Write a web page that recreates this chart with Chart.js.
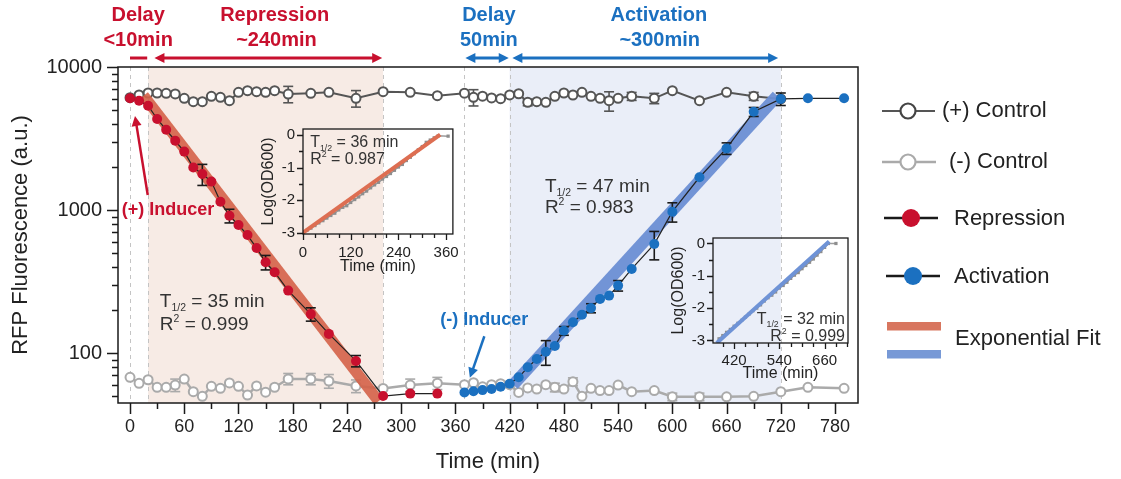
<!DOCTYPE html>
<html>
<head>
<meta charset="utf-8">
<script src="https://cdn.jsdelivr.net/npm/chart.js@4.4.1/dist/chart.umd.min.js"></script>
<style>
  html, body { margin: 0; padding: 0; background: #fff; }
  #wrap { position: relative; width: 1121px; height: 479px; overflow: hidden; }
  canvas { position: absolute; }
  #main { left: 0; top: 0; }
  #inset1 { left: 255px; top: 112px; }
  #inset2 { left: 665px; top: 221px; }
</style>
</head>
<body>
<div id="wrap">
  <canvas id="main" width="1121" height="479"></canvas>
  <canvas id="inset1" width="214" height="168"></canvas>
  <canvas id="inset2" width="191" height="168"></canvas>
</div>
<script>
const FONT = '"Liberation Sans", Arial, Helvetica, sans-serif';
const RED = '#c8102e';
const BLUE = '#1b70c0';
const TXT = '#333';

// axes
const X_MIN = -13.3, X_MAX = 805.4;
const Y_MIN = 44.7, Y_MAX = 10000;
const X_MAJOR = [0, 60, 120, 180, 240, 300, 360, 420, 480, 540, 600, 660, 720, 780];
const X_MINOR = [30, 90, 150, 210, 270, 330, 390, 450, 510, 570, 630, 690, 750];
const Y_MAJOR = [100, 1000, 10000];
const Y_MINOR = [50, 60, 70, 80, 90, 200, 300, 400, 500, 600, 700, 800, 900,
                 2000, 3000, 4000, 5000, 6000, 7000, 8000, 9000];
const SHADE_REP = [20, 280];
const SHADE_ACT = [420, 720];
const DASH_T = [0, 20, 280, 370, 420, 720];

// (+) control
const POS_T = [0, 10, 20, 30, 40, 50, 60, 70, 80, 90, 100, 110, 120, 130, 140, 150, 160, 175, 200, 220, 250, 280,
               310, 340, 370, 380, 390, 400, 410, 420, 430, 440, 450, 460, 470, 480, 490, 500, 510, 520, 530, 540,
               555, 580, 600, 630, 660, 690, 720];
const POS_V = [6100, 6370, 6580, 6580, 6550, 6480, 6040, 5720, 5720, 6240, 6140, 5810, 6650, 6830, 6720, 6650, 6830, 6470, 6550, 6650, 6040, 6720,
               6650, 6300, 6560, 6140, 6250, 6080, 6000, 6380, 6500, 5660, 5720, 5660, 6240, 6580, 6370, 6650, 6240, 6040, 5810, 6040,
               6240, 6040, 6830, 5810, 6650, 6240, 5980];
const POS_ERR = [0, 0, 0, 0, 0, 0, 0, 0, 0, 0, 0, 0, 0, 0, 0, 0, 0, 850, 0, 0, 800, 0,
                 0, 0, 0, 800, 0, 0, 0, 0, 0, 300, 0, 0, 0, 0, 0, 0, 0, 0, 900, 0,
                 400, 500, 0, 0, 0, 400, 0];

// (-) control
const NEG_T = [0, 10, 20, 30, 40, 50, 60, 70, 80, 90, 100, 110, 120, 130, 140, 150, 160, 175, 200, 220, 250, 280,
               310, 340, 370, 380, 390, 400, 410, 420, 430, 440, 450, 460, 470, 480, 490, 500, 510, 520, 530, 540,
               555, 580, 600, 630, 660, 690, 720, 750, 790];
const NEG_V = [67.6, 61.4, 65, 57.5, 57.5, 59.7, 65.7, 53.6, 49.8, 58.5, 56.6, 61.7, 58.5, 50.8, 58.8, 53.2, 57.6, 65.9, 65.9, 63.7, 58.8, 56.5,
               59.7, 61.5, 60, 62, 58, 60, 61, 60, 53, 57, 56, 60, 57.5, 55.9, 63, 49.8, 56.6, 54.6, 54.6, 59.7,
               53.6, 54.6, 49.4, 49.4, 49.4, 49.8, 53.6, 57.5, 56.6];
const NEG_ERR = [0, 0, 0, 0, 0, 6, 0, 0, 0, 0, 0, 0, 0, 0, 0, 0, 0, 6, 6, 7, 6, 0,
                 6, 6, 0, 0, 0, 0, 0, 0, 0, 0, 0, 0, 4, 0, 4, 0, 0, 0, 0, 0,
                 0, 0, 3, 3, 0, 0, 0, 0, 0];

// repression
const REP_T = [0, 10, 20, 30, 40, 50, 60, 70, 80, 90, 100, 110, 120, 130, 140, 150, 160, 175, 200, 220, 250, 280, 310, 340];
const REP_V = [6040, 5810, 5360, 4330, 3640, 3050, 2560, 1980, 1785, 1580, 1143, 912, 785, 668, 542, 431, 367, 273, 187, 136, 88, 50, 52, 52];
const REP_ERR = [0, 0, 0, 0, 0, 0, 0, 0, 300, 0, 0, 100, 0, 0, 0, 50, 0, 0, 20, 0, 8, 0, 0, 0];

// activation
const ACT_T = [370, 380, 390, 400, 410, 420, 430, 440, 450, 460, 470, 480, 490, 500, 510, 520, 530, 540, 555, 580, 600, 630, 660, 690, 720, 750, 790];
const ACT_V = [53, 54, 55, 56, 58, 61, 67.6, 79.4, 90.8, 102, 112, 143, 164, 185, 206, 239, 252, 296, 387, 578, 973, 1694, 2697, 4860, 5980, 6040, 6040];
const ACT_ERR = [0, 0, 0, 0, 0, 0, 0, 0, 0, 20, 0, 10, 0, 0, 15, 0, 0, 25, 0, 130, 150, 0, 250, 350, 600, 0, 0];

// exponential fits (main panel)
const FIT_REP_T = [15, 275];
const FIT_REP_V = [6300, 46];
const FIT_ACT_T = [424, 716];
const FIT_ACT_V = [60, 6300];

// inset 1 (growth during repression)
const IN1_T = [0, 10, 20, 30, 40, 50, 60, 70, 80, 90, 100, 110, 120, 130, 140, 150, 160, 170, 180, 190, 200,
               210, 220, 230, 240, 250, 260, 270, 280, 290, 300, 310, 320, 330, 340, 365];
const IN1_V = [-3.0, -2.93, -2.86, -2.78, -2.70, -2.63, -2.55, -2.47, -2.40, -2.30, -2.22, -2.17, -2.07, -1.98, -1.90, -1.80, -1.72, -1.62, -1.53, -1.45, -1.35,
               -1.27, -1.18, -1.08, -0.98, -0.90, -0.78, -0.68, -0.57, -0.45, -0.35, -0.22, -0.15, -0.08, -0.02, -0.03];
const IN1_FIT_T = [0, 345];
const IN1_FIT_V = [-3.0, 0.02];
const IN1_X_MAJOR = [0, 120, 240, 360];
const IN1_X_MINOR = [30, 60, 90, 150, 180, 210, 270, 300, 330];

// inset 2 (growth during activation)
const IN2_T = [380, 390, 400, 410, 420, 430, 440, 450, 460, 470, 480, 490, 500, 510, 520, 530, 540, 550, 560, 570,
               580, 590, 600, 610, 620, 630, 640, 650, 660, 670, 690];
const IN2_V = [-2.95, -2.85, -2.75, -2.66, -2.56, -2.47, -2.38, -2.28, -2.18, -2.08, -2.0, -1.9, -1.78, -1.68, -1.6, -1.5, -1.38, -1.3, -1.2, -1.08,
               -0.98, -0.9, -0.78, -0.68, -0.58, -0.48, -0.36, -0.25, -0.12, 0.0, 0.0];
const IN2_FIT_T = [374, 672];
const IN2_FIT_V = [-3.08, 0.06];
const IN2_X_MAJOR = [420, 540, 660];
const IN2_X_MINOR = [390, 450, 480, 510, 570, 600, 630, 690, 720];

const IN_Y_MAJOR = [0, -1, -2, -3];
const IN_Y_MINOR = [-0.5, -1.5, -2.5];

const pts = (T, V) => T.map((t, i) => ({x: t, y: V[i]}));

// ---------- drawing helpers ----------
function seg(ctx, x1, y1, x2, y2, color, w) {
    ctx.beginPath();
    ctx.strokeStyle = color;
    ctx.lineWidth = w;
    ctx.moveTo(x1, y1);
    ctx.lineTo(x2, y2);
    ctx.stroke();
}

function head(ctx, fx, fy, tx, ty, color, len, half) {
    const ang = Math.atan2(ty - fy, tx - fx);
    ctx.beginPath();
    ctx.fillStyle = color;
    ctx.moveTo(tx, ty);
    ctx.lineTo(tx - len * Math.cos(ang) + half * Math.sin(ang), ty - len * Math.sin(ang) - half * Math.cos(ang));
    ctx.lineTo(tx - len * Math.cos(ang) - half * Math.sin(ang), ty - len * Math.sin(ang) + half * Math.cos(ang));
    ctx.closePath();
    ctx.fill();
}

function arrow(ctx, x1, y1, x2, y2, color, w, both) {
    const ang = Math.atan2(y2 - y1, x2 - x1);
    const len = 10;
    const sx = both ? x1 + (len - 2) * Math.cos(ang) : x1;
    const sy = both ? y1 + (len - 2) * Math.sin(ang) : y1;
    seg(ctx, sx, sy, x2 - (len - 2) * Math.cos(ang), y2 - (len - 2) * Math.sin(ang), color, w);
    head(ctx, x1, y1, x2, y2, color, len, 5);
    if (both) head(ctx, x2, y2, x1, y1, color, len, 5);
}

function circ(ctx, x, y, r, fill, stroke, w) {
    ctx.beginPath();
    ctx.arc(x, y, r, 0, Math.PI * 2);
    ctx.fillStyle = fill;
    ctx.fill();
    if (stroke) {
        ctx.strokeStyle = stroke;
        ctx.lineWidth = w;
        ctx.stroke();
    }
}

// text with a small subscript / superscript part: base + small + rest
function subText(ctx, x, cy, size, base, small, rest, sup, align) {
    const y = cy + size * 0.36;
    ctx.font = `${size}px ${FONT}`;
    const w1 = ctx.measureText(base).width;
    const w3 = ctx.measureText(rest).width;
    ctx.font = `${size * 0.55}px ${FONT}`;
    const w2 = ctx.measureText(small).width;
    const x0 = align === 'right' ? x - w1 - w2 - w3 : x;
    ctx.textAlign = 'left';
    ctx.textBaseline = 'alphabetic';
    ctx.fillStyle = TXT;
    ctx.font = `${size}px ${FONT}`;
    ctx.fillText(base, x0, y);
    ctx.font = `${size * 0.55}px ${FONT}`;
    ctx.fillText(small, x0 + w1, sup ? y - size * 0.42 : y + size * 0.22);
    ctx.font = `${size}px ${FONT}`;
    ctx.fillText(rest, x0 + w1 + w2, y);
}

// ---------- plugins ----------
const shading = {
    id: 'shading',
    beforeDatasetsDraw(chart) {
        const {ctx, chartArea: a, scales: {x}} = chart;
        ctx.save();
        ctx.fillStyle = '#f7ebe5';
        ctx.fillRect(x.getPixelForValue(SHADE_REP[0]), a.top, x.getPixelForValue(SHADE_REP[1]) - x.getPixelForValue(SHADE_REP[0]), a.bottom - a.top);
        ctx.fillStyle = '#eaeef8';
        ctx.fillRect(x.getPixelForValue(SHADE_ACT[0]), a.top, x.getPixelForValue(SHADE_ACT[1]) - x.getPixelForValue(SHADE_ACT[0]), a.bottom - a.top);
        ctx.setLineDash([4, 4]);
        DASH_T.forEach(t => {
            const p = Math.round(x.getPixelForValue(t)) + 0.5;
            seg(ctx, p, a.top, p, a.bottom, '#c4c4c4', 1);
        });
        ctx.restore();
    }
};

const errorBars = {
    id: 'errorBars',
    beforeDatasetDraw(chart, args) {
        const ds = chart.data.datasets[args.index];
        if (!ds.errors) return;
        const {ctx, scales: {x, y}} = chart;
        ctx.save();
        ds.data.forEach((p, i) => {
            const e = ds.errors[i];
            if (!e) return;
            const px = x.getPixelForValue(p.x);
            const y1 = y.getPixelForValue(p.y + e);
            const y2 = y.getPixelForValue(Math.max(p.y - e, 1));
            seg(ctx, px, y1, px, y2, ds.errColor, 1.6);
            seg(ctx, px - 5, y1, px + 5, y1, ds.errColor, 1.6);
            seg(ctx, px - 5, y2, px + 5, y2, ds.errColor, 1.6);
        });
        ctx.restore();
    }
};

const frame = {
    id: 'frame',
    afterDatasetsDraw(chart, args, o) {
        const {ctx, chartArea: a, scales: {x, y}} = chart;
        ctx.save();
        ctx.strokeStyle = '#1a1a1a';
        ctx.lineWidth = o.width;
        ctx.strokeRect(a.left, a.top, a.right - a.left, a.bottom - a.top);
        ctx.beginPath();
        o.xMajor.concat(o.xMinor).forEach((v, i) => {
            const p = Math.round(x.getPixelForValue(v)) + 0.5;
            const len = i < o.xMajor.length ? o.major : o.minor;
            ctx.moveTo(p, a.bottom);
            ctx.lineTo(p, a.bottom + len);
        });
        o.yMajor.concat(o.yMinor).forEach((v, i) => {
            const p = Math.round(y.getPixelForValue(v)) + 0.5;
            const len = i < o.yMajor.length ? o.major : o.minor;
            ctx.moveTo(a.left, p);
            ctx.lineTo(a.left - len, p);
        });
        ctx.stroke();
        ctx.restore();
    }
};

const mainNotes = {
    id: 'mainNotes',
    afterDraw(chart) {
        const {ctx, chartArea: a, scales: {x, y}} = chart;
        ctx.save();

        // phase headers
        const hdr = (s, t, py, color) => {
            ctx.font = `bold 20px ${FONT}`;
            ctx.fillStyle = color;
            ctx.textAlign = 'center';
            ctx.textBaseline = 'middle';
            ctx.fillText(s, x.getPixelForValue(t), py);
        };
        hdr('Delay', 9, a.top - 52, RED);
        hdr('<10min', 9, a.top - 27, RED);
        hdr('Repression', 160, a.top - 52, RED);
        hdr('~240min', 162, a.top - 27, RED);
        hdr('Delay', 397, a.top - 52, BLUE);
        hdr('50min', 397, a.top - 27, BLUE);
        hdr('Activation', 585, a.top - 52, BLUE);
        hdr('~300min', 586, a.top - 27, BLUE);

        const ay = a.top - 9;
        seg(ctx, x.getPixelForValue(0), ay, x.getPixelForValue(19), ay, RED, 3);
        arrow(ctx, x.getPixelForValue(27), ay, x.getPixelForValue(279), ay, RED, 3, true);
        arrow(ctx, x.getPixelForValue(371), ay, x.getPixelForValue(419), ay, BLUE, 3, true);
        arrow(ctx, x.getPixelForValue(423), ay, x.getPixelForValue(717), ay, BLUE, 3, true);

        // inducers
        ctx.font = `bold 18px ${FONT}`;
        ctx.textAlign = 'center';
        ctx.textBaseline = 'middle';
        ctx.fillStyle = RED;
        ctx.fillText('(+) Inducer', x.getPixelForValue(42), y.getPixelForValue(1000));
        arrow(ctx, x.getPixelForValue(19.6), y.getPixelForValue(1274), x.getPixelForValue(5.5), y.getPixelForValue(4545), RED, 2.5, false);
        ctx.font = `bold 18px ${FONT}`;
        ctx.fillStyle = BLUE;
        ctx.fillText('(-) Inducer', x.getPixelForValue(392), y.getPixelForValue(170));
        arrow(ctx, x.getPixelForValue(392), y.getPixelForValue(131), x.getPixelForValue(376), y.getPixelForValue(67), BLUE, 2.5, false);

        // fit statistics
        subText(ctx, x.getPixelForValue(33), y.getPixelForValue(235), 19, 'T', '1/2', ' = 35 min', false);
        subText(ctx, x.getPixelForValue(33), y.getPixelForValue(162), 19, 'R', '2', ' = 0.999', true);
        subText(ctx, x.getPixelForValue(459), y.getPixelForValue(1496), 19, 'T', '1/2', ' = 47 min', false);
        subText(ctx, x.getPixelForValue(459), y.getPixelForValue(1066), 19, 'R', '2', ' = 0.983', true);

        // legend
        ctx.font = `22px ${FONT}`;
        ctx.textAlign = 'left';
        ctx.textBaseline = 'middle';
        seg(ctx, 882, 111, 935, 111, '#555', 2);
        circ(ctx, 908, 111, 7.5, '#fff', '#444', 2.2);
        seg(ctx, 882, 162, 936, 162, '#aaa', 2.5);
        circ(ctx, 908, 162, 7.5, '#fff', '#aaa', 2.2);
        seg(ctx, 884, 218, 938, 218, '#1a1a1a', 2.5);
        circ(ctx, 911, 218, 9, RED);
        seg(ctx, 886, 276, 940, 276, '#1a1a1a', 2.5);
        circ(ctx, 913, 276, 9, BLUE);
        ctx.fillStyle = '#d8765f';
        ctx.fillRect(887, 322, 54, 8.5);
        ctx.fillStyle = '#7799d6';
        ctx.fillRect(887, 350, 54, 8.5);
        ctx.fillStyle = '#222';
        ctx.font = `22px ${FONT}`;
        ctx.fillText('(+) Control', 942, 111);
        ctx.fillText('(-) Control', 949, 162);
        ctx.fillText('Repression', 954, 219);
        ctx.fillText('Activation', 954, 277);
        ctx.fillText('Exponential Fit', 955, 339);
        ctx.restore();
    }
};

// ---------- main chart ----------
new Chart(document.getElementById('main'), {
    type: 'line',
    data: {
        datasets: [
            {
                data: pts(REP_T, REP_V), errors: REP_ERR, errColor: '#1a1a1a', order: 1,
                borderColor: '#222', borderWidth: 1.2,
                pointRadius: 5, pointBorderWidth: 0, pointBackgroundColor: RED, pointBorderColor: RED
            },
            {
                data: pts(ACT_T, ACT_V), errors: ACT_ERR, errColor: '#1a1a1a', order: 1,
                borderColor: '#222', borderWidth: 1.2,
                pointRadius: 5, pointBorderWidth: 0, pointBackgroundColor: BLUE, pointBorderColor: BLUE
            },
            {
                data: pts(FIT_REP_T, FIT_REP_V), order: 2,
                borderColor: 'rgba(212, 98, 72, 0.9)', borderWidth: 11, pointRadius: 0, borderCapStyle: 'butt'
            },
            {
                data: pts(FIT_ACT_T, FIT_ACT_V), order: 2,
                borderColor: 'rgba(108, 142, 212, 0.95)', borderWidth: 12, pointRadius: 0, borderCapStyle: 'butt'
            },
            {
                data: pts(POS_T, POS_V), errors: POS_ERR, errColor: '#555', order: 3,
                borderColor: '#555', borderWidth: 2,
                pointRadius: 4.5, pointBorderWidth: 2, pointBackgroundColor: '#fff', pointBorderColor: '#555'
            },
            {
                data: pts(NEG_T, NEG_V), errors: NEG_ERR, errColor: '#aaa', order: 3,
                borderColor: '#aaa', borderWidth: 2.5,
                pointRadius: 4.5, pointBorderWidth: 2, pointBackgroundColor: '#fff', pointBorderColor: '#aaa'
            }
        ]
    },
    options: {
        responsive: false,
        animation: false,
        events: [],
        layout: {padding: {top: 67, right: 263, left: 0, bottom: 0}},
        plugins: {
            legend: {display: false},
            tooltip: {enabled: false},
            frame: {xMajor: X_MAJOR, xMinor: X_MINOR, yMajor: Y_MAJOR, yMinor: Y_MINOR, major: 11, minor: 6, width: 1.5}
        },
        scales: {
            x: {
                type: 'linear', min: X_MIN, max: X_MAX,
                grid: {display: false, drawTicks: false}, border: {display: false},
                afterBuildTicks: s => { s.ticks = X_MAJOR.map(v => ({value: v})); },
                ticks: {padding: 13, color: '#222', font: {size: 18, family: FONT}, maxRotation: 0, autoSkip: false, callback: v => String(v)},
                title: {display: true, text: 'Time (min)', color: '#222', font: {size: 22, family: FONT}, padding: {top: 0, bottom: 4}},
                afterFit: s => { s.height = 76; }
            },
            y: {
                type: 'logarithmic', min: Y_MIN, max: Y_MAX,
                grid: {display: false, drawTicks: false}, border: {display: false},
                afterBuildTicks: s => { s.ticks = Y_MAJOR.map(v => ({value: v})); },
                ticks: {padding: 16, color: '#222', font: {size: 20, family: FONT}, autoSkip: false, callback: v => String(v)},
                title: {display: true, text: 'RFP Fluorescence (a.u.)', color: '#222', font: {size: 22, family: FONT}, padding: {top: 8, bottom: 0}},
                afterFit: s => { s.width = 118; }
            }
        }
    },
    plugins: [shading, errorBars, frame, mainNotes]
});

// ---------- insets ----------
function inset(id, T, V, FT, FV, fitColor, xRange, yRange, xMajor, xMinor, xPad, titlePad, note) {
    new Chart(document.getElementById(id), {
        type: 'line',
        data: {
            datasets: [
                {data: pts(FT, FV), order: 1, borderColor: fitColor, borderWidth: 4, pointRadius: 0},
                {
                    data: pts(T, V), order: 2, borderColor: '#9c9c9c', borderWidth: 1.5,
                    pointStyle: 'rect', pointRadius: 2.3, pointBorderWidth: 0, pointBackgroundColor: '#8e8e8e'
                }
            ]
        },
        options: {
            responsive: false,
            animation: false,
            events: [],
            layout: {padding: {top: 6, right: 8, left: 0, bottom: 0}},
            plugins: {
                legend: {display: false},
                tooltip: {enabled: false},
                frame: {xMajor: xMajor, xMinor: xMinor, yMajor: IN_Y_MAJOR, yMinor: IN_Y_MINOR, major: 6, minor: 4, width: 1.3}
            },
            scales: {
                x: {
                    type: 'linear', min: xRange[0], max: xRange[1],
                    grid: {display: false, drawTicks: false}, border: {display: false},
                    afterBuildTicks: s => { s.ticks = xMajor.map(v => ({value: v})); },
                    ticks: {padding: xPad, color: '#222', font: {size: 15, family: FONT}, maxRotation: 0, autoSkip: false, callback: v => String(v)},
                    title: {display: true, text: 'Time (min)', color: '#222', font: {size: 16, family: FONT}, padding: {top: 0, bottom: titlePad}},
                    afterFit: s => { s.height = 46; }
                },
                y: {
                    type: 'linear', min: yRange[0], max: yRange[1],
                    grid: {display: false, drawTicks: false}, border: {display: false},
                    afterBuildTicks: s => { s.ticks = IN_Y_MAJOR.map(v => ({value: v})); },
                    ticks: {padding: 8, color: '#222', font: {size: 15, family: FONT}, autoSkip: false, callback: v => String(v)},
                    title: {display: true, text: 'Log(OD600)', color: '#222', font: {size: 16, family: FONT}, padding: {top: 4, bottom: 0}},
                    afterFit: s => { s.width = 48; }
                }
            }
        },
        plugins: [frame, {id: 'insetNote', afterDraw: note}]
    });
}

inset('inset1', IN1_T, IN1_V, IN1_FIT_T, IN1_FIT_V, '#dd6e52', [0, 377], [-3.04, 0.19], IN1_X_MAJOR, IN1_X_MINOR, 10, 4,
    chart => {
        const {ctx, scales: {x, y}} = chart;
        subText(ctx, x.getPixelForValue(18), y.getPixelForValue(-0.19), 16, 'T', '1/2', ' = 36 min', false);
        subText(ctx, x.getPixelForValue(18), y.getPixelForValue(-0.70), 16, 'R', '2', ' = 0.987', true);
    });

inset('inset2', IN2_T, IN2_V, IN2_FIT_T, IN2_FIT_V, '#6f93d6', [364, 722], [-3.08, 0.17], IN2_X_MAJOR, IN2_X_MINOR, 9, 6,
    chart => {
        const {ctx, scales: {x, y}} = chart;
        subText(ctx, x.getPixelForValue(714), y.getPixelForValue(-2.30), 16, 'T', '1/2', ' = 32 min', false, 'right');
        subText(ctx, x.getPixelForValue(714), y.getPixelForValue(-2.83), 16, 'R', '2', ' = 0.999', true, 'right');
    });
</script>
</body>
</html>
